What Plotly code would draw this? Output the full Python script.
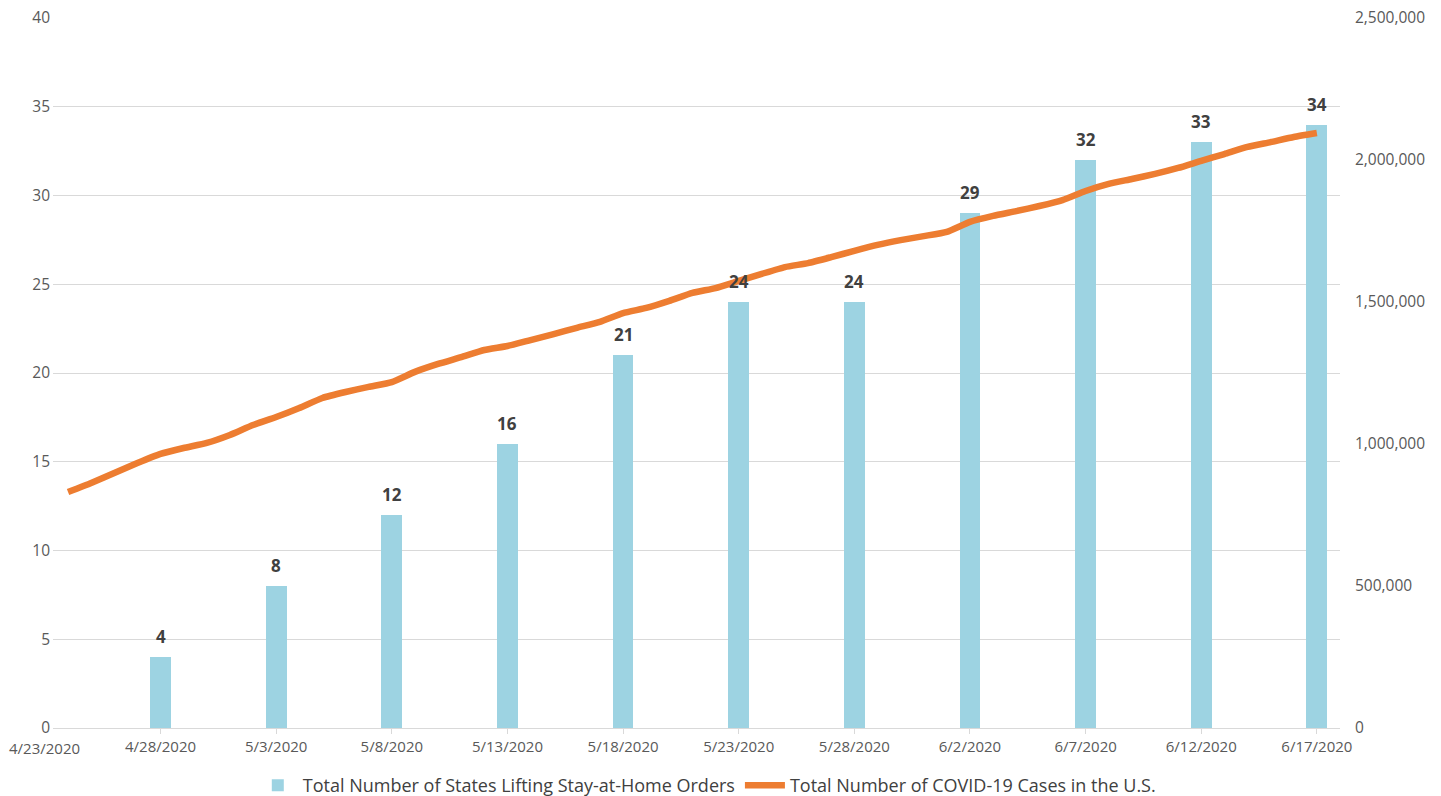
import pandas as pd
import plotly.graph_objects as go

# States that had lifted stay-at-home orders, sampled every 5 days
bar_dates = ["2020-04-28", "2020-05-03", "2020-05-08", "2020-05-13", "2020-05-18",
             "2020-05-23", "2020-05-28", "2020-06-02", "2020-06-07", "2020-06-12",
             "2020-06-17"]
states_lifting = [4, 8, 12, 16, 21, 24, 24, 29, 32, 33, 34]

# Cumulative U.S. COVID-19 cases, daily from 4/24/2020 to 6/17/2020
case_start = "2020-04-24"
us_cases = [831000, 863000, 898000, 933000, 965000, 986000, 1004000, 1032000, 1067000,
            1095000, 1127000, 1162000, 1183000, 1201000, 1218000, 1254000, 1282000,
            1306000, 1331000, 1345000, 1366000, 1387000, 1409000, 1430000, 1461000,
            1479000, 1504000, 1532000, 1549000, 1574000, 1599000, 1623000, 1637000,
            1658000, 1680000, 1701000, 1718000, 1732000, 1747000, 1782000, 1803000,
            1820000, 1838000, 1859000, 1891000, 1916000, 1933000, 1951000, 1972000,
            1997000, 2021000, 2046000, 2063000, 2081000, 2095000]
case_dates = pd.date_range(case_start, periods=len(us_cases), freq="D")

# x-axis tick labels
tick_dates = ["2020-04-23", "2020-04-28", "2020-05-03", "2020-05-08", "2020-05-13",
              "2020-05-18", "2020-05-23", "2020-05-28", "2020-06-02", "2020-06-07",
              "2020-06-12", "2020-06-17"]
tick_labels = ["4/23/2020", "4/28/2020", "5/3/2020", "5/8/2020", "5/13/2020",
               "5/18/2020", "5/23/2020", "5/28/2020", "6/2/2020", "6/7/2020",
               "6/12/2020", "6/17/2020"]

BAR_NAME = "Total Number of States Lifting Stay-at-Home Orders"
LINE_NAME = "Total Number of COVID-19 Cases in the U.S."
FONT = "Open Sans"
TXT = "#595959"
GRID = "#D9D9D9"

DAY_MS = 86400000
x_lo = pd.Timestamp("2020-04-23") + pd.Timedelta(hours=8.4)
x_hi = pd.Timestamp("2020-06-18")

fig = go.Figure()
fig.add_trace(go.Bar(
    x=bar_dates, y=states_lifting, name=BAR_NAME,
    marker=dict(color="#9DD3E2", line=dict(width=0)),
    width=0.9 * DAY_MS,
))
fig.add_trace(go.Scatter(
    x=case_dates, y=us_cases, name=LINE_NAME, yaxis="y2", mode="lines",
    line=dict(color="#ED7D31", width=6.5, shape="spline", smoothing=0.5),
))

# value labels above each bar
for d, v in zip(bar_dates, states_lifting):
    fig.add_annotation(
        x=d, y=v, xref="x", yref="y", yanchor="bottom", yshift=7,
        text=str(v), showarrow=False,
        font=dict(family=FONT, size=17, color="#404040", weight="bold"),
    )

# first date label sits left of the plotted window
first = pd.Timestamp(tick_dates[0])
first_frac = (first - x_lo) / (x_hi - x_lo)
fig.add_annotation(
    x=first_frac, xref="paper", xanchor="center", y=0, yref="paper",
    yanchor="top", yshift=-8,
    text=tick_labels[0], showarrow=False, font=dict(family=FONT, size=15, color=TXT),
)

fig.update_layout(
    width=1441, height=796,
    margin=dict(l=53, r=101, t=18, b=68, autoexpand=False),
    paper_bgcolor="white", plot_bgcolor="white",
    font=dict(family=FONT, size=15, color=TXT),
    bargap=0,
    xaxis=dict(
        type="date", range=[x_lo, x_hi],
        tickmode="array", tickvals=tick_dates[1:], ticktext=tick_labels[1:],
        ticks="outside", ticklen=5, tickcolor=GRID,
        showline=True, linecolor=GRID, linewidth=1,
        showgrid=False, zeroline=False,
        tickfont=dict(family=FONT, size=15, color=TXT),
    ),
    yaxis=dict(
        range=[0, 40], dtick=5, tick0=0,
        showgrid=True, gridcolor=GRID, gridwidth=1, zeroline=False,
        ticks="", ticklabelstandoff=2,
        tickfont=dict(family=FONT, size=15.5, color=TXT),
    ),
    yaxis2=dict(
        range=[0, 2500000], dtick=500000, tick0=0, overlaying="y", side="right",
        showgrid=False, zeroline=False, tickformat=",", ticks="",
        ticklabelstandoff=14,
        tickfont=dict(family=FONT, size=15.5, color=TXT),
    ),
    legend=dict(
        orientation="h", x=0.508, xanchor="center",
        yref="container", y=0.013, yanchor="middle",
        font=dict(family=FONT, size=18, color="#404040"),
        itemwidth=40, tracegroupgap=0,
    ),
    showlegend=True,
)

fig.write_html("out.html")
